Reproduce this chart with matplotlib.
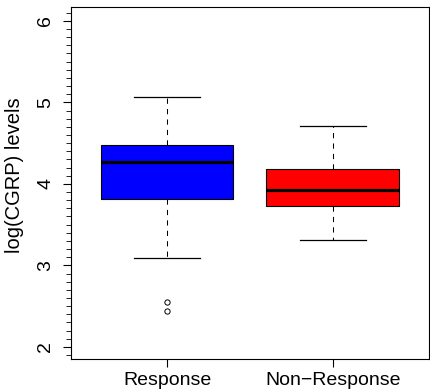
import matplotlib
matplotlib.use("Agg")
import matplotlib.pyplot as plt
import numpy as np
from matplotlib.ticker import MultipleLocator

plt.rcParams['font.family'] = ['Liberation Sans', 'DejaVu Sans']

groups = ['Response', 'Non\u2212Response']
box_colors = ['#0000FF', '#FF0000']
q1 = [3.816, 3.727]
medians = [4.263, 3.920]
q3 = [4.475, 4.177]
whisker_low = [3.093, 3.317]
whisker_high = [5.060, 4.710]
outliers = [[2.55, 2.44], []]

stats = []
for i in range(len(groups)):
    stats.append({
        'label': groups[i],
        'q1': q1[i], 'med': medians[i], 'q3': q3[i],
        'whislo': whisker_low[i], 'whishi': whisker_high[i],
        'fliers': outliers[i],
    })

fig = plt.figure(figsize=(4.30, 3.92), dpi=100)
ax = fig.add_axes([0.165, 0.084, 0.832, 0.897])

bp = ax.bxp(stats, positions=[1, 2], widths=0.8, patch_artist=True,
            showfliers=True, manage_ticks=False,
            boxprops=dict(edgecolor='black', linewidth=0.8),
            medianprops=dict(color='black', linewidth=2.3, solid_capstyle='butt'),
            whiskerprops=dict(color='black', linewidth=0.75, linestyle=(0, (5, 5))),
            capprops=dict(color='black', linewidth=0.9),
            flierprops=dict(marker='o', markersize=3.8, markerfacecolor='none',
                            markeredgecolor='black', markeredgewidth=0.7))
for patch, c in zip(bp['boxes'], box_colors):
    patch.set_facecolor(c)
for cap in bp['caps']:
    x0, x1 = cap.get_xdata()
    mid = (x0 + x1) / 2
    cap.set_xdata([mid - 0.2, mid + 0.2])

ax.set_xlim(0.42, 2.58)
ax.set_ylim(1.85, 6.165)
ax.set_xticks([1, 2])
ax.set_xticklabels(groups, fontsize=14)
ax.set_yticks([2, 3, 4, 5, 6])
ax.set_yticklabels(['2', '3', '4', '5', '6'], fontsize=14, rotation=90, va='center')
ax.yaxis.set_minor_locator(MultipleLocator(0.1))
ax.tick_params(axis='x', which='major', length=6, width=0.8, pad=3)
ax.tick_params(axis='y', which='major', length=6, width=0.8, pad=6)
ax.tick_params(axis='y', which='minor', length=3.5, width=0.6)
ax.set_ylabel('log(CGRP) levels', fontsize=14.5)
ax.yaxis.set_label_coords(-0.13, 0.523)
for s in ax.spines.values():
    s.set_linewidth(0.8)

fig.savefig('out.png', dpi=100)
